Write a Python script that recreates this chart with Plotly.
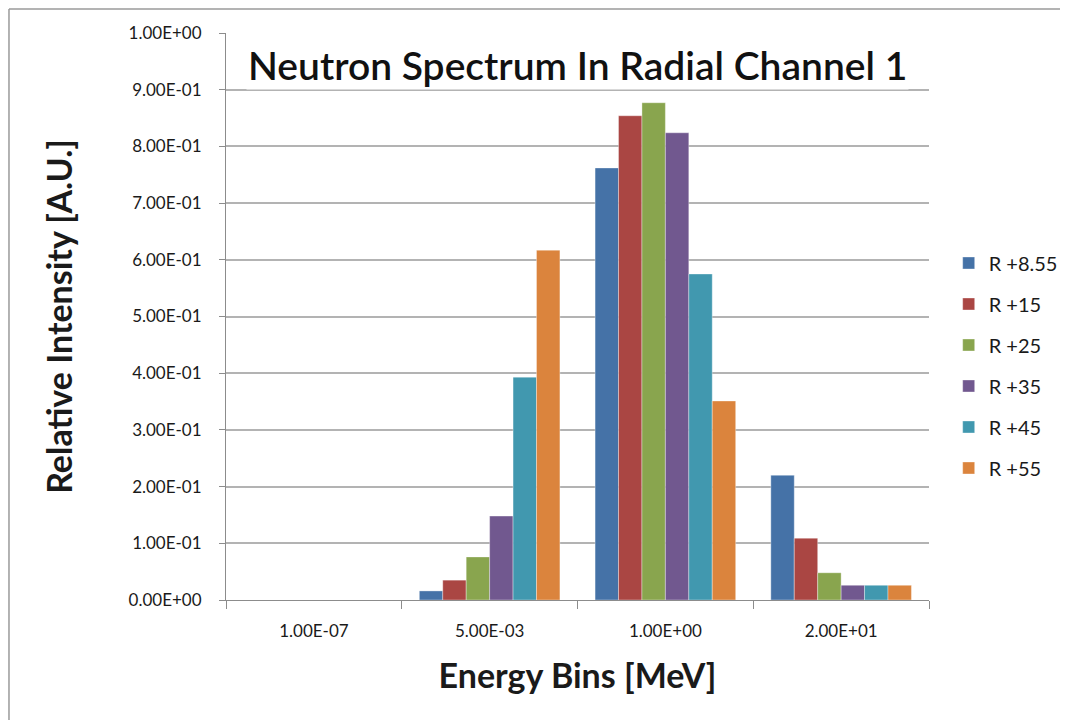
import plotly.graph_objects as go

categories = ["1.00E-07", "5.00E-03", "1.00E+00", "2.00E+01"]
series_names = ["R +8.55", "R +15", "R +25", "R +35", "R +45", "R +55"]
values = {
    "R +8.55": [0.0, 0.016, 0.762, 0.220],
    "R +15":   [0.0, 0.035, 0.854, 0.109],
    "R +25":   [0.0, 0.076, 0.877, 0.048],
    "R +35":   [0.0, 0.148, 0.824, 0.026],
    "R +45":   [0.0, 0.393, 0.575, 0.026],
    "R +55":   [0.0, 0.617, 0.351, 0.026],
}
colors = ["#4572A7", "#AA4643", "#89A54E", "#71588F", "#4198AF", "#DB843D"]
y_tickvals = [0.0, 0.1, 0.2, 0.3, 0.4, 0.5, 0.6, 0.7, 0.8, 0.9, 1.0]
y_ticktext = ["0.00E+00", "1.00E-01", "2.00E-01", "3.00E-01", "4.00E-01", "5.00E-01",
              "6.00E-01", "7.00E-01", "8.00E-01", "9.00E-01", "1.00E+00"]

FONT = "Lato, Open Sans, sans-serif"

fig = go.Figure()
for name, col in zip(series_names, colors):
    fig.add_trace(go.Bar(
        x=categories, y=values[name], name=name, legendgroup=name,
        marker=dict(color=col, line=dict(color="rgba(255,255,255,0.35)", width=1)),
    ))

fig.update_layout(
    width=1090, height=712,
    margin=dict(l=218, r=169, t=25, b=120),
    paper_bgcolor="white", plot_bgcolor="white",
    barmode="group", bargap=0.2, bargroupgap=0,
    font=dict(family=FONT, color="#000000"),
    showlegend=True,
    legend=dict(x=1.028, y=0.4136, xanchor="left", yanchor="middle",
                font=dict(size=20, family=FONT, color="#1a1a1a"), tracegroupgap=12,
                itemwidth=30, bgcolor="rgba(0,0,0,0)"),
    xaxis=dict(
        type="category", showgrid=False, showline=True, linecolor="#8c8c8c", linewidth=1,
        ticks="outside", tickson="boundaries", ticklen=8, tickcolor="#8c8c8c",
        tickfont=dict(size=17, family=FONT, color="#1a1a1a"), ticklabelstandoff=16,
        automargin=False,
        title=dict(text="<b>Energy Bins [MeV]</b>", font=dict(size=34, family=FONT, color="#1a1a1a"), standoff=23),
    ),
    yaxis=dict(
        range=[0, 1.0], tickvals=y_tickvals, ticktext=y_ticktext,
        showgrid=True, gridcolor="#b3b3b3", gridwidth=1.5,
        showline=True, linecolor="#8c8c8c", linewidth=1,
        ticks="outside", ticklen=6, tickcolor="#8c8c8c", ticklabelstandoff=14,
        tickfont=dict(size=17, family=FONT, color="#1a1a1a"), zeroline=False,
        automargin=False,
        title=dict(text="<b>Relative Intensity [A.U.]</b>", font=dict(size=34, family=FONT, color="#1a1a1a"), standoff=45),
    ),
)

fig.add_annotation(
    text="Neutron Spectrum In Radial Channel 1",
    xref="paper", yref="paper", x=0.5, y=0.944, xanchor="center", yanchor="middle",
    showarrow=False, font=dict(size=39, family=FONT, color="#111111", weight=600),
    bgcolor="white",
)

# outer frame lines (chart border)
fig.add_shape(type="line", xref="paper", yref="paper",
              x0=-0.3087, x1=-0.3087, y0=-0.3, y1=1.0423,
              line=dict(color="#9a9a9a", width=1.5))
fig.add_shape(type="line", xref="paper", yref="paper",
              x0=-0.3087, x1=1.3, y0=1.0423, y1=1.0423,
              line=dict(color="#9a9a9a", width=1.5))

fig.write_html("out.html")
